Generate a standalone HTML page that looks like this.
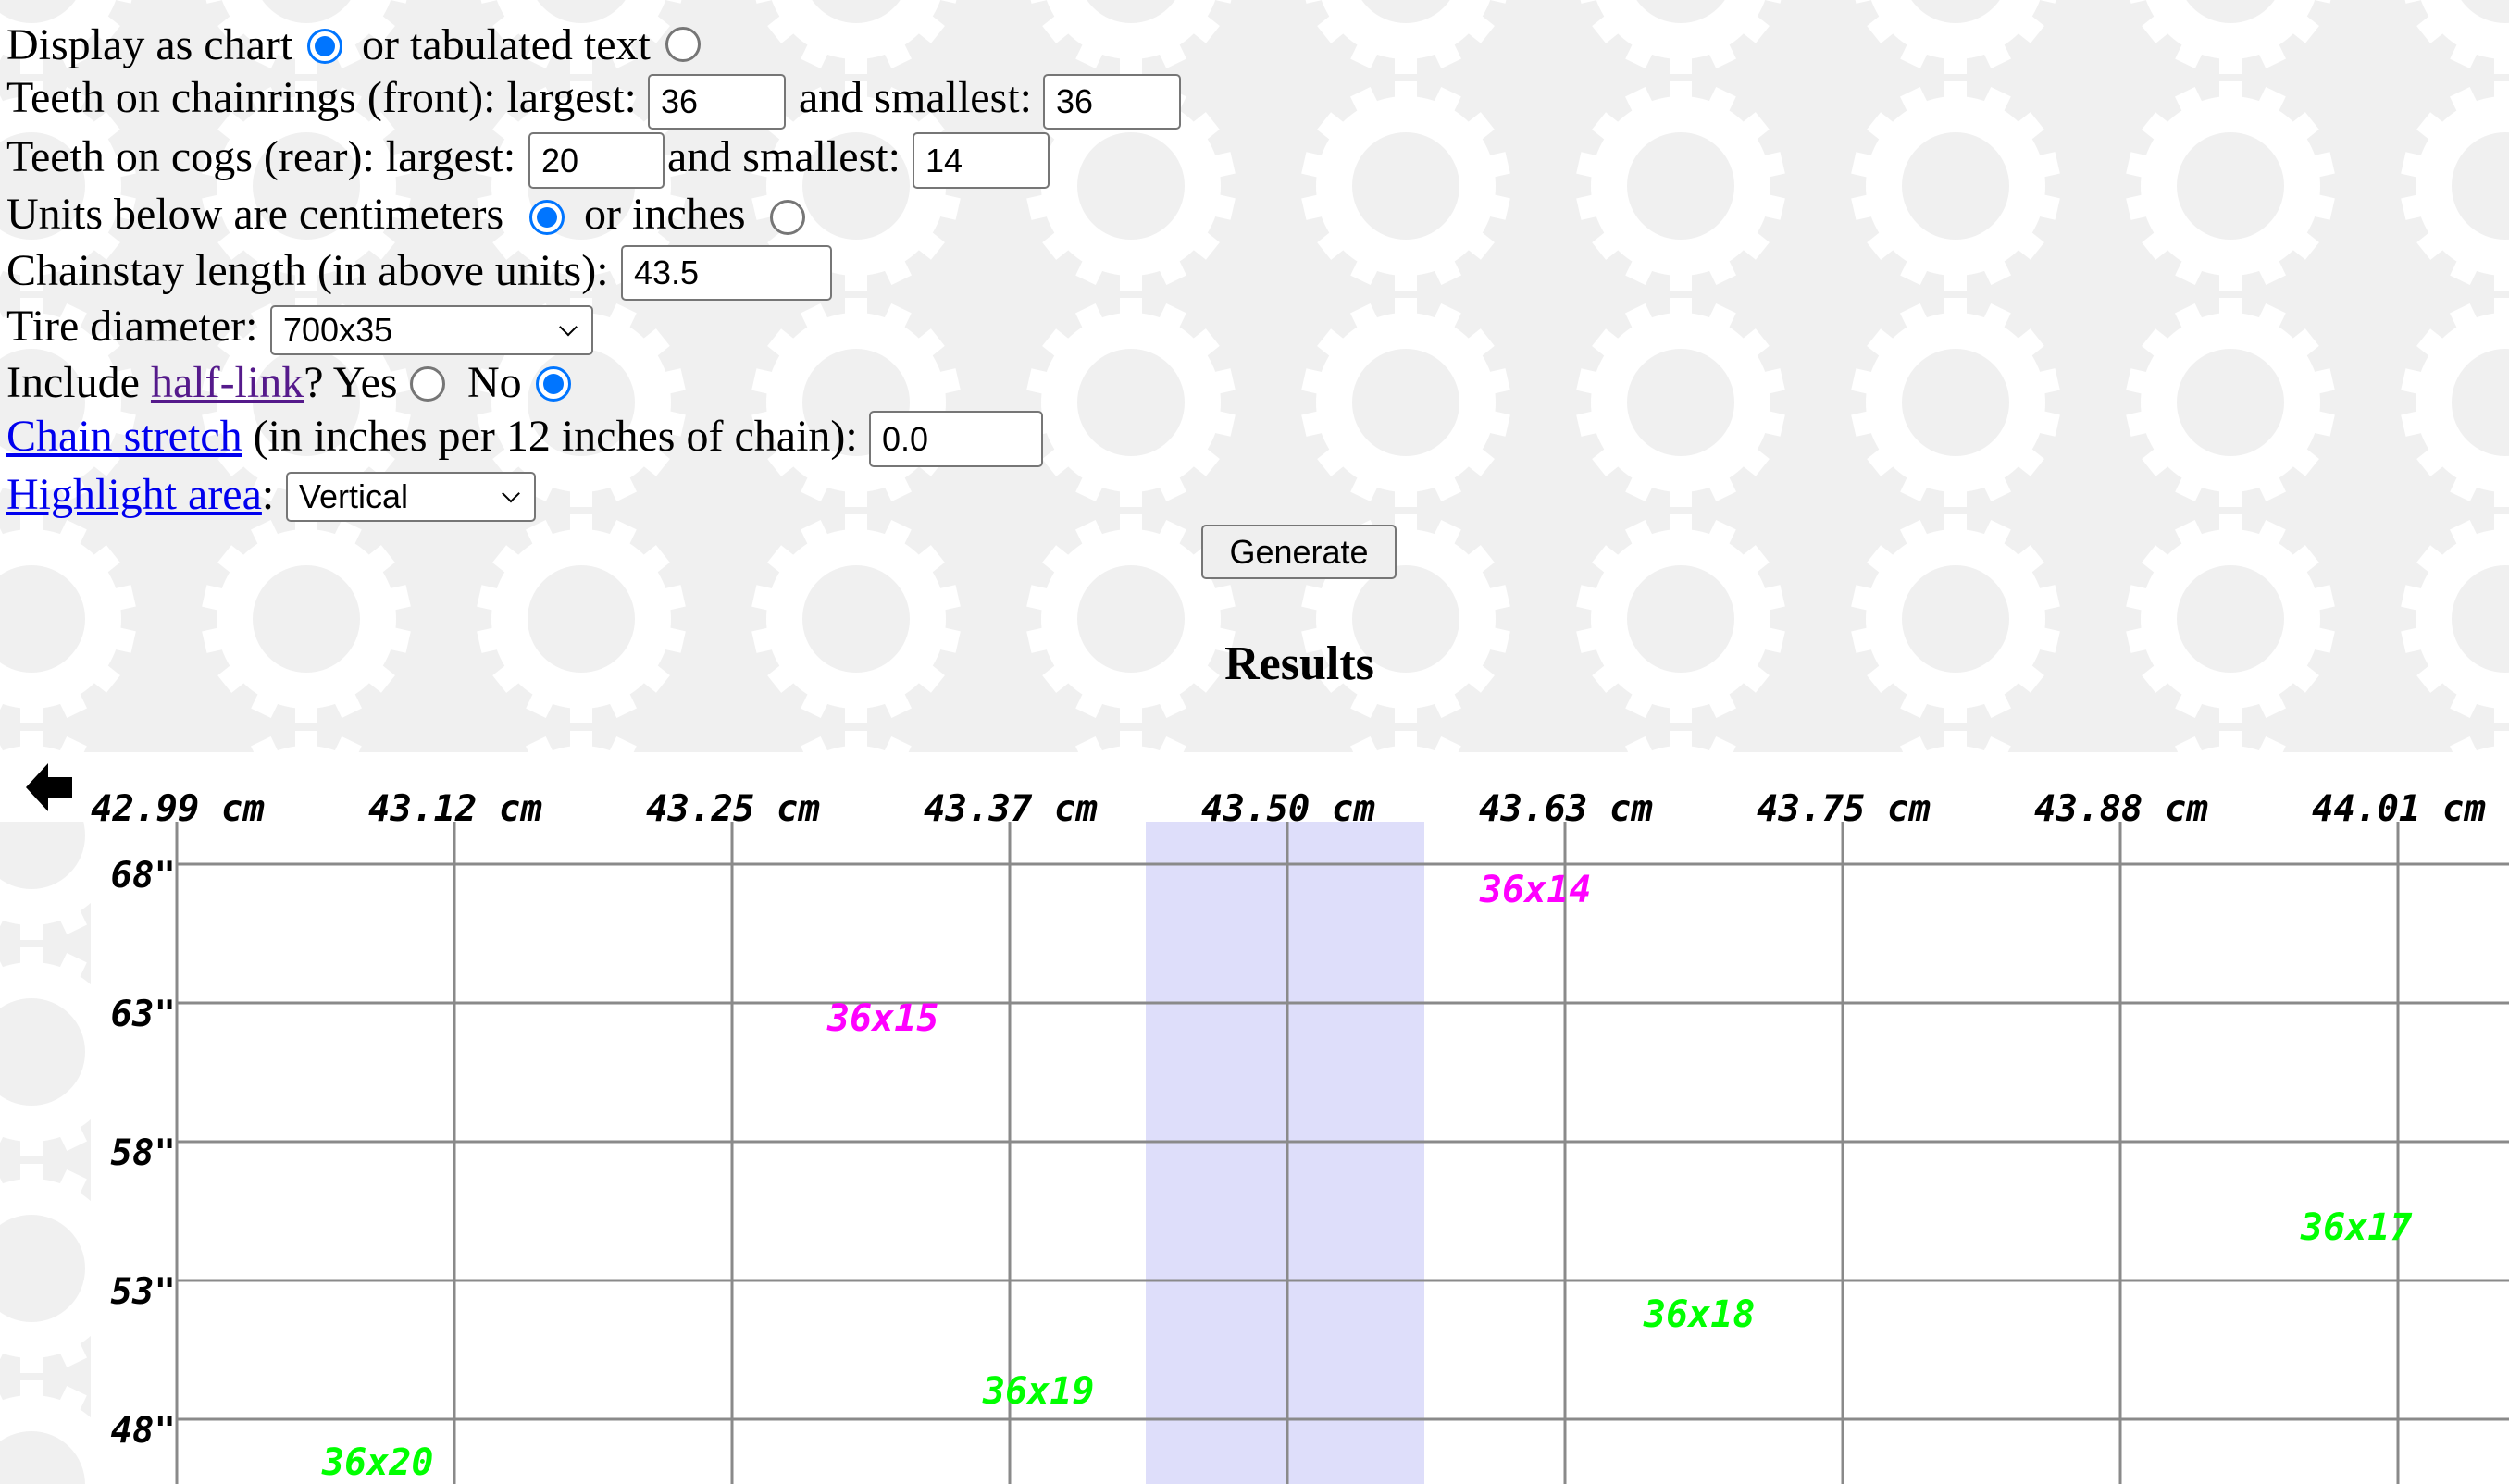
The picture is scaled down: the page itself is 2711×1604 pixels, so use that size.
<!DOCTYPE html>
<html><head><meta charset="utf-8">
<style>
html,body{margin:0;padding:0;width:2711px;height:1604px;overflow:hidden;background:#f0f0f0;}
.t{position:absolute;font-family:"Liberation Serif",serif;font-size:48px;line-height:48px;white-space:nowrap;color:#000;}
.in{position:absolute;box-sizing:border-box;background:#fff;border:2px solid #767676;border-radius:5px;font-family:"Liberation Sans",sans-serif;font-size:36px;line-height:1;padding-left:12px;display:flex;align-items:center;}
.r{position:absolute;box-sizing:border-box;width:38px;height:38px;border-radius:50%;border:3px solid #767676;background:#fff;}
.rc{border:3px solid #0075ff;}
.rc::after{content:"";position:absolute;left:5px;top:5px;width:22px;height:22px;border-radius:50%;background:#0075ff;}
a{text-decoration:underline;}
.sel::after{content:"";position:absolute;right:18px;top:50%;width:12px;height:12px;border-right:2.5px solid #000;border-bottom:2.5px solid #000;transform:translateY(-75%) rotate(45deg);}
</style></head><body>
<svg width="2711" height="1604" style="position:absolute;left:0;top:0" xmlns="http://www.w3.org/2000/svg">
<defs>
<pattern id="g" width="297" height="234" patternUnits="userSpaceOnUse" patternTransform="translate(-114,-150)">
<g transform="translate(148,117)" fill="#fff">
<circle r="97"/>
<g id="tt"><rect x="-12" y="-113" width="24" height="30"/></g>
<use href="#tt" transform="rotate(25.7)"/><use href="#tt" transform="rotate(51.4)"/><use href="#tt" transform="rotate(77.1)"/><use href="#tt" transform="rotate(102.8)"/><use href="#tt" transform="rotate(128.5)"/><use href="#tt" transform="rotate(154.2)"/><use href="#tt" transform="rotate(180)"/><use href="#tt" transform="rotate(205.7)"/><use href="#tt" transform="rotate(231.4)"/><use href="#tt" transform="rotate(257.1)"/><use href="#tt" transform="rotate(282.8)"/><use href="#tt" transform="rotate(308.5)"/><use href="#tt" transform="rotate(334.2)"/>
<circle r="58" fill="#f0f0f0"/>
</g>
</pattern>
</defs>
<rect width="2711" height="1604" fill="url(#g)"/>
<rect x="0" y="813" width="2711" height="75" fill="#fff"/>
<rect x="98" y="887" width="2613" height="717" fill="#fff"/>
<rect x="1238" y="888" width="301" height="716" fill="#dedefa"/>
<g stroke="#8a8a8a" stroke-width="3">
<line x1="191" y1="888" x2="191" y2="1604"/><line x1="491" y1="888" x2="491" y2="1604"/><line x1="791" y1="888" x2="791" y2="1604"/><line x1="1091" y1="888" x2="1091" y2="1604"/><line x1="1391" y1="888" x2="1391" y2="1604"/><line x1="1691" y1="888" x2="1691" y2="1604"/><line x1="1991" y1="888" x2="1991" y2="1604"/><line x1="2291" y1="888" x2="2291" y2="1604"/><line x1="2591" y1="888" x2="2591" y2="1604"/>
<line x1="191" y1="934" x2="2711" y2="934"/><line x1="191" y1="1084" x2="2711" y2="1084"/><line x1="191" y1="1234" x2="2711" y2="1234"/><line x1="191" y1="1384" x2="2711" y2="1384"/><line x1="191" y1="1534" x2="2711" y2="1534"/>
</g>
<polygon points="28,851 52,825 52,840 78,840 78,862 52,862 52,877" fill="#000"/>
<g font-family="DejaVu Sans Mono, monospace" font-weight="bold" font-style="italic" font-size="39">
<text x="98" y="887">42.99 cm</text><text x="398" y="887">43.12 cm</text><text x="698" y="887">43.25 cm</text><text x="998" y="887">43.37 cm</text><text x="1298" y="887">43.50 cm</text><text x="1598" y="887">43.63 cm</text><text x="1898" y="887">43.75 cm</text><text x="2198" y="887">43.88 cm</text><text x="2498" y="887">44.01 cm</text>
<g text-anchor="end"><text x="190" y="959">68"</text><text x="190" y="1109">63"</text><text x="190" y="1259">58"</text><text x="190" y="1409">53"</text><text x="190" y="1559">48"</text></g>
<g font-size="40"><text x="1599" y="975" fill="#ff00ff">36x14</text><text x="894" y="1114" fill="#ff00ff">36x15</text><text x="2486" y="1340" fill="#00ff00">36x17</text><text x="1776" y="1434" fill="#00ff00">36x18</text><text x="1062" y="1517" fill="#00ff00">36x19</text><text x="348" y="1594" fill="#00ff00">36x20</text></g>
</g>
</svg>

<div class="t" style="left:7px;top:25px">Display as chart</div>
<div class="r rc" style="left:332px;top:31px"></div>
<div class="t" style="left:391px;top:25px">or tabulated text</div>
<div class="r" style="left:719px;top:29px"></div>

<div class="t" style="left:7px;top:82px">Teeth on chainrings (front): largest:</div>
<div class="in" style="left:700px;top:80px;width:149px;height:60px">36</div>
<div class="t" style="left:863px;top:82px">and smallest:</div>
<div class="in" style="left:1127px;top:80px;width:149px;height:60px">36</div>

<div class="t" style="left:7px;top:146px">Teeth on cogs (rear): largest:</div>
<div class="in" style="left:571px;top:143px;width:147px;height:61px">20</div>
<div class="t" style="left:721px;top:146px">and smallest:</div>
<div class="in" style="left:986px;top:143px;width:148px;height:61px">14</div>

<div class="t" style="left:7px;top:208px">Units below are centimeters</div>
<div class="r rc" style="left:572px;top:216px"></div>
<div class="t" style="left:631px;top:208px">or inches</div>
<div class="r" style="left:832px;top:216px"></div>

<div class="t" style="left:7px;top:269px">Chainstay length (in above units):</div>
<div class="in" style="left:671px;top:265px;width:228px;height:60px">43.5</div>

<div class="t" style="left:7px;top:329px">Tire diameter:</div>
<div class="in sel" style="left:292px;top:330px;width:349px;height:54px">700x35</div>

<div class="t" style="left:7px;top:390px">Include <a style="color:#551a8b">half-link</a>? Yes</div>
<div class="r" style="left:443px;top:396px"></div>
<div class="t" style="left:505px;top:390px">No</div>
<div class="r rc" style="left:579px;top:396px"></div>

<div class="t" style="left:7px;top:448px"><a style="color:#0000ee">Chain stretch</a> (in inches per 12 inches of chain):</div>
<div class="in" style="left:939px;top:444px;width:188px;height:61px">0.0</div>

<div class="t" style="left:7px;top:511px"><a style="color:#0000ee">Highlight area</a>:</div>
<div class="in sel" style="left:309px;top:510px;width:270px;height:54px">Vertical</div>

<div class="in" style="left:1298px;top:567px;width:211px;height:59px;background:#efefef;justify-content:center;padding:0">Generate</div>

<div class="t" style="left:1204px;width:400px;text-align:center;top:692px;font-weight:bold;font-size:52px;line-height:52px">Results</div>
</body></html>
